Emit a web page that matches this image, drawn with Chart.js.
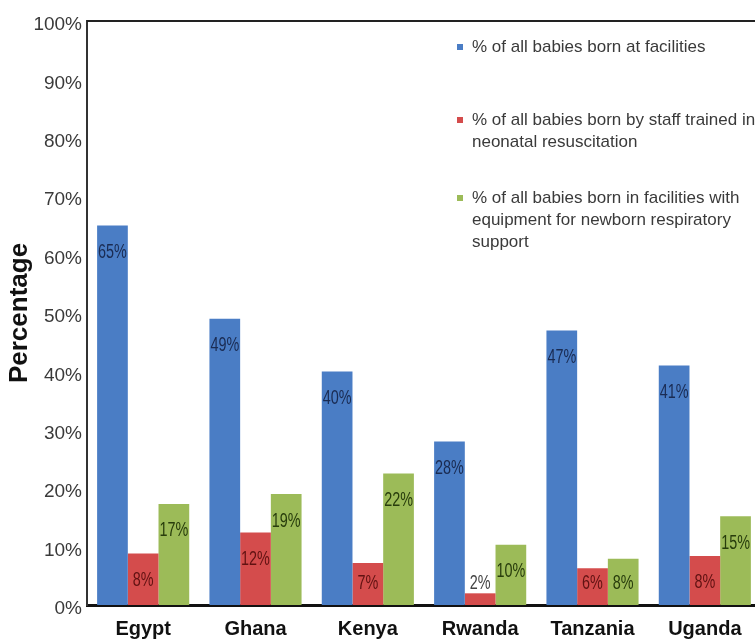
<!DOCTYPE html>
<html>
<head>
<meta charset="utf-8">
<title>Neonatal care by country</title>
<script src="https://cdn.jsdelivr.net/npm/chart.js@4.4.1/dist/chart.umd.min.js"></script>
<style>
    html, body { margin: 0; padding: 0; background: #fff; overflow: hidden; }
    #wrap { position: relative; width: 770px; height: 641px; }
</style>
</head>
<body>
<div id="wrap"><canvas id="canvas-display"></canvas></div>
<script>
// countries on the x axis
var countries = ['Egypt', 'Ghana', 'Kenya', 'Rwanda', 'Tanzania', 'Uganda'];

// bar heights (%)
var atFacilities = [65, 49, 40, 28, 47, 41];
var trainedStaff = [8.8, 12.4, 7.2, 2, 6.3, 8.4];
var withEquipment = [17.3, 19, 22.5, 10.3, 7.9, 15.2];

// the labels printed on the bars
var atFacilitiesText = ['65%', '49%', '40%', '28%', '47%', '41%'];
var trainedStaffText = ['8%', '12%', '7%', '2%', '6%', '8%'];
var withEquipmentText = ['17%', '19%', '22%', '10%', '8%', '15%'];

// legend entries, one array of lines per series
var seriesNames = [
    ['% of all babies born at facilities'],
    ['% of all babies born by staff trained in', 'neonatal resuscitation'],
    ['% of all babies born in facilities with', 'equipment for newborn respiratory', 'support']
];

var yTicks = [0, 10, 20, 30, 40, 50, 60, 70, 80, 90, 100];

var FONT = "'Liberation Sans', Arial, sans-serif";

/**
 * Writes the value labels inside the bars, squeezed like the original.
 */
var barLabels = {
    id: 'barLabels',
    afterDatasetsDraw: function (chart) {
        var ctx = chart.ctx;
        var texts = [atFacilitiesText, trainedStaffText, withEquipmentText];
        var colors = ['#1a2b52', '#611212', '#283d0c'];
        ctx.save();
        ctx.font = '20px ' + FONT;
        ctx.textAlign = 'center';
        ctx.textBaseline = 'middle';
        chart.data.datasets.forEach(function (ds, i) {
            chart.getDatasetMeta(i).data.forEach(function (bar, j) {
                var y = Math.min(bar.y + 27, bar.base - 22);
                ctx.save();
                ctx.translate(bar.x, y);
                ctx.scale(0.72, 1);
                ctx.fillStyle = (i == 1 && bar.base - bar.y < 30) ? '#444' : colors[i];
                ctx.fillText(texts[i][j], 0, 0);
                ctx.restore();
            });
        });
        ctx.restore();
    }
};

/**
 * Top frame line and the legend in the upper right corner.
 */
var frameAndLegend = {
    id: 'frameAndLegend',
    afterDraw: function (chart) {
        var ctx = chart.ctx;
        var area = chart.chartArea;
        ctx.save();
        ctx.strokeStyle = '#222';
        ctx.lineWidth = 2;
        ctx.beginPath();
        ctx.moveTo(area.left, area.top);
        ctx.lineTo(area.right, area.top);
        ctx.stroke();

        var firstLine = [47, 120, 198];
        ctx.font = '17px ' + FONT;
        ctx.textBaseline = 'middle';
        ctx.textAlign = 'left';
        seriesNames.forEach(function (lines, i) {
            ctx.fillStyle = chart.data.datasets[i].backgroundColor;
            ctx.fillRect(457, firstLine[i] - 3, 6, 6);
            ctx.fillStyle = '#3a3a3a';
            lines.forEach(function (txt, k) {
                ctx.fillText(txt, 472, firstLine[i] + k * 22);
            });
        });
        ctx.restore();
    }
};

function makeChart() {
    var ctx = document.getElementById('canvas-display').getContext('2d');
    var config = {
        type: 'bar',
        data: {
            labels: countries,
            datasets: [{
                label: seriesNames[0].join(' '),
                data: atFacilities,
                backgroundColor: '#4a7dc5'
            }, {
                label: seriesNames[1].join(' '),
                data: trainedStaff,
                backgroundColor: '#d44c4c'
            }, {
                label: seriesNames[2].join(' '),
                data: withEquipment,
                backgroundColor: '#9cbb58'
            }]
        },
        options: {
            responsive: true,
            maintainAspectRatio: false,
            animation: false,
            devicePixelRatio: 1,
            layout: { padding: { top: 21, right: 9, left: 0, bottom: 0 } },
            datasets: {
                bar: { categoryPercentage: 0.82, barPercentage: 1.0, borderWidth: 0 }
            },
            plugins: {
                legend: { display: false },
                tooltip: { enabled: false }
            },
            scales: {
                x: {
                    z: 1,
                    grid: { display: false, drawTicks: false },
                    border: { display: true, color: '#111', width: 3 },
                    ticks: {
                        color: '#111',
                        padding: 12,
                        font: { family: FONT, size: 20, weight: 'bold' }
                    },
                    afterFit: function (scale) { scale.height = 36; }
                },
                y: {
                    min: 0,
                    max: 100,
                    afterBuildTicks: function (scale) {
                        scale.ticks = yTicks.map(function (v) { return { value: v }; });
                    },
                    grid: { display: false, drawTicks: false },
                    border: { display: true, color: '#333', width: 2 },
                    ticks: {
                        color: '#3a3a3a',
                        padding: 5,
                        labelOffset: 4,
                        font: { family: FONT, size: 19 },
                        callback: function (v) { return v + '%'; }
                    },
                    title: {
                        display: true,
                        text: 'Percentage',
                        color: '#111',
                        padding: { top: 4, bottom: 0 },
                        font: { family: FONT, size: 26, weight: 'bold' }
                    },
                    afterFit: function (scale) { scale.width = 87; }
                }
            }
        },
        plugins: [barLabels, frameAndLegend]
    };
    new Chart(ctx, config);
}

makeChart();
</script>
</body>
</html>
